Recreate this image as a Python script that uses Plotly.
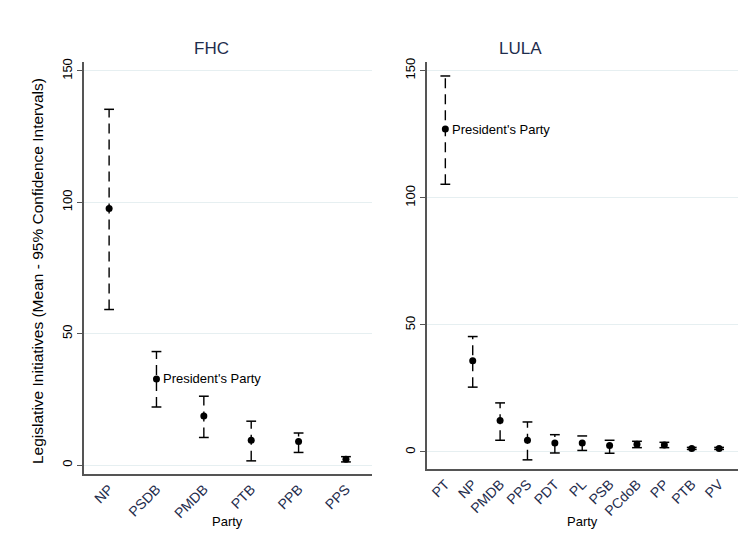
import plotly.graph_objects as go

# FHC panel data
fhc_parties = ["NP", "PSDB", "PMDB", "PTB", "PPB", "PPS"]
fhc_mean = [97.6, 32.8, 18.7, 9.4, 9.0, 2.2]
fhc_upper = [135.4, 43.2, 26.2, 16.7, 12.2, 3.2]
fhc_lower = [59.2, 22.1, 10.5, 1.6, 4.8, 1.2]

# LULA panel data
lula_parties = ["PT", "NP", "PMDB", "PPS", "PDT", "PL", "PSB", "PCdoB", "PP", "PTB", "PV"]
lula_mean = [127.0, 35.9, 12.4, 4.6, 3.5, 3.5, 2.5, 3.0, 2.7, 1.4, 1.4]
lula_upper = [147.9, 45.4, 19.3, 11.8, 6.8, 6.3, 4.6, 4.2, 3.8, 1.8, 1.8]
lula_lower = [105.3, 25.5, 4.6, -3.1, -0.4, 0.6, -0.5, 1.7, 1.7, 1.0, 1.0]

president_party = {"FHC": "PSDB", "LULA": "PT"}
y_ticks = [0, 50, 100, 150]

W, H = 751, 554
OFF = 8  # page body margin offset of the plot div
FONT = "Liberation Sans, Arial, Helvetica, sans-serif"
NAVY = "#1f2d4d"


def px(x):
    return (x - OFF) / W


def py(y):
    return 1 - (y - OFF) / H


fig = go.Figure()


def add_panel(parties, mean, upper, lower, xa, ya):
    seg_x, seg_y = [], []
    for p, lo, hi in zip(parties, lower, upper):
        seg_x += [p, p, None]
        seg_y += [lo, hi, None]
    fig.add_trace(go.Scatter(x=seg_x, y=seg_y, mode="lines",
                             line=dict(color="black", width=1.4, dash="10px,6px"),
                             xaxis=xa, yaxis=ya, showlegend=False, hoverinfo="skip"))
    fig.add_trace(go.Scatter(x=parties + parties, y=upper + lower, mode="markers",
                             marker=dict(symbol="line-ew-open", size=7, color="black",
                                         line=dict(color="black", width=1.5)),
                             xaxis=xa, yaxis=ya, showlegend=False, hoverinfo="skip"))
    fig.add_trace(go.Scatter(x=parties, y=mean, mode="markers",
                             marker=dict(symbol="circle", size=7, color="black"),
                             xaxis=xa, yaxis=ya, showlegend=False))


add_panel(fhc_parties, fhc_mean, fhc_upper, fhc_lower, "x", "y")
add_panel(lula_parties, lula_mean, lula_upper, lula_lower, "x2", "y2")

xcommon = dict(type="category", showline=True, linecolor="#555555", linewidth=1.5,
               showgrid=False, zeroline=False, ticks="", automargin=False,
               tickangle=-45,
               tickfont=dict(family=FONT, size=14, color=NAVY))
ycommon = dict(showline=True, linecolor="#555555", linewidth=1.5, automargin=False,
               showgrid=True, gridcolor="#e6eff1", gridwidth=1, zeroline=False,
               ticks="outside", ticklen=5, tickcolor="#555555",
               tickvals=y_ticks, tickangle=-90,
               tickfont=dict(family=FONT, size=13, color="black"))

fig.update_layout(
    width=W, height=H,
    margin=dict(l=0, r=0, t=0, b=0, autoexpand=False),
    paper_bgcolor="white", plot_bgcolor="white",
    font=dict(family=FONT, color="black"),
    xaxis=dict(xcommon, domain=[px(84), px(372)], range=[-0.53, 5.55], anchor="y"),
    yaxis=dict(ycommon, domain=[py(474), py(62)], range=[-3.4, 153.4], anchor="x"),
    xaxis2=dict(xcommon, domain=[px(427), px(738)], range=[-0.67, 10.69], anchor="y2"),
    yaxis2=dict(ycommon, domain=[py(469), py(62)], range=[-6.7, 153.4], anchor="x2"),
)

annotations = [
    dict(text="FHC", x=px(211.5), y=py(48), xref="paper", yref="paper",
         xanchor="center", yanchor="middle",
         showarrow=False, font=dict(family=FONT, size=17, color=NAVY)),
    dict(text="LULA", x=px(520), y=py(48), xref="paper", yref="paper",
         xanchor="center", yanchor="middle",
         showarrow=False, font=dict(family=FONT, size=17, color=NAVY)),
    dict(text="Legislative Initiatives (Mean - 95% Confidence Intervals)",
         x=px(37), y=py(271), xref="paper", yref="paper", textangle=-90,
         xanchor="center", yanchor="middle",
         showarrow=False, font=dict(family=FONT, size=15.5, color="black")),
    dict(text="Party", x=px(228), y=py(521), xref="paper", yref="paper",
         xanchor="center", yanchor="middle",
         showarrow=False, font=dict(family=FONT, size=13, color="black")),
    dict(text="Party", x=px(582), y=py(521), xref="paper", yref="paper",
         xanchor="center", yanchor="middle",
         showarrow=False, font=dict(family=FONT, size=13, color="black")),
    dict(text="President's Party", x=president_party["FHC"],
         y=fhc_mean[fhc_parties.index(president_party["FHC"])],
         xref="x", yref="y", xanchor="left", yanchor="middle", xshift=5, showarrow=False,
         font=dict(family=FONT, size=13, color="black")),
    dict(text="President's Party", x=president_party["LULA"],
         y=lula_mean[lula_parties.index(president_party["LULA"])],
         xref="x2", yref="y2", xanchor="left", yanchor="middle", xshift=5, showarrow=False,
         font=dict(family=FONT, size=13, color="black")),
]
fig.update_layout(annotations=annotations)

fig.write_html("out.html")
